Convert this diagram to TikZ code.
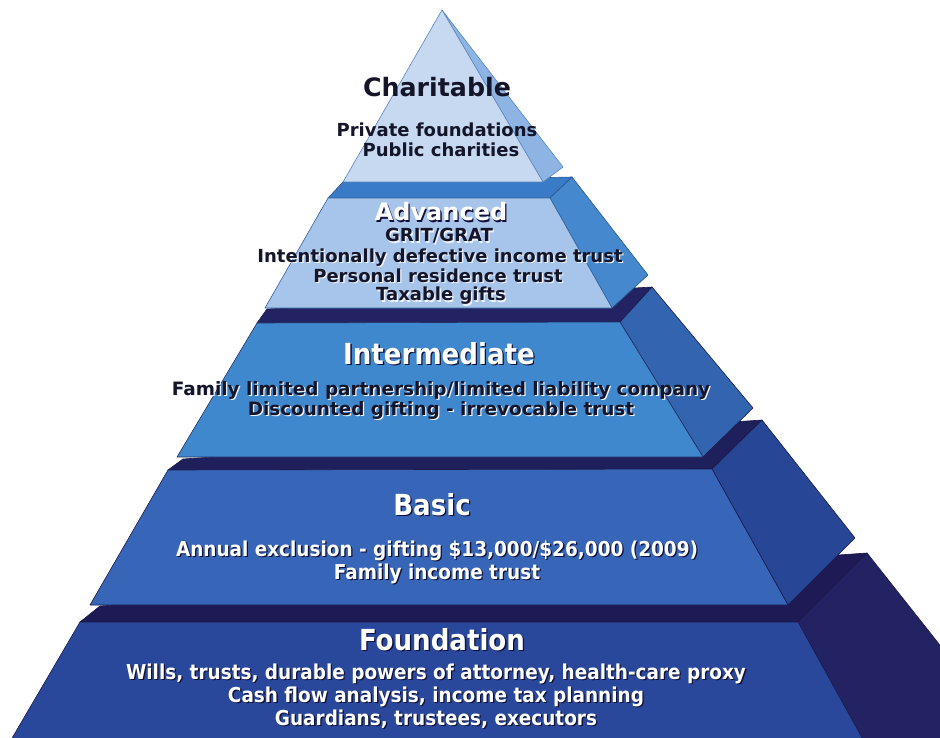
\documentclass[tikz,border=0pt]{standalone}
\usepackage{fontspec}
\setmainfont{DejaVu Sans}
\newfontfamily\condfont{DejaVu Sans Condensed}
\definecolor{cFront}{HTML}{C6D9F0}
\definecolor{cSide}{HTML}{8DB4E2}
\definecolor{cEdge}{HTML}{5A86C0}
\definecolor{aFront}{HTML}{A7C5EA}
\definecolor{aBand}{HTML}{3A7BC8}
\definecolor{aSide}{HTML}{4688CE}
\definecolor{iFront}{HTML}{4088CE}
\definecolor{iBand}{HTML}{232364}
\definecolor{iSide}{HTML}{3264AF}
\definecolor{bFront}{HTML}{3765B7}
\definecolor{bBand}{HTML}{1F1F5C}
\definecolor{bSide}{HTML}{284696}
\definecolor{fFront}{HTML}{29489B}
\definecolor{fBand}{HTML}{1D1A55}
\definecolor{fSide}{HTML}{232364}
\definecolor{darkEdge}{HTML}{1A1A4A}
\definecolor{shDark}{HTML}{10103A}
\definecolor{shLight}{HTML}{EEF3FA}
\definecolor{txtDark}{HTML}{15152A}
\newcommand{\shd}[3]{\makebox[0pt][l]{\hspace{1.3pt}\raisebox{-1.3pt}{\color{#1}#3}}{\color{#2}#3}}
\tikzset{
  face/.style={line width=0.6pt, line join=round},
  txt/.style={anchor=base, inner sep=0pt},
  ttl/.style={txt, font=\fontsize{25.3}{27}\selectfont\bfseries},
  attl/.style={txt, font=\fontsize{24}{26}\selectfont\bfseries},
  itm/.style={txt, font=\fontsize{18}{20}\selectfont\bfseries},
  iitm/.style={txt, font=\fontsize{18.4}{20}\selectfont\bfseries},
  cttl/.style={txt, font=\condfont\fontsize{29}{31}\selectfont\bfseries},
  citm/.style={txt, font=\condfont\fontsize{20.5}{23}\selectfont\bfseries}
}
\begin{document}
\begin{tikzpicture}[x=1pt,y=-1pt]
\useasboundingbox (0,0) rectangle (940,738);
\begin{scope}
\clip (0,0) rectangle (940,738);
% Foundation tier
\filldraw[face, fill=fBand, draw=darkEdge] (100,606) -- (867,553) -- (798,622) -- (80,622) -- cycle;
\filldraw[face, fill=fSide, draw=darkEdge] (798,622) -- (867,553) -- (1019,745) -- (866,745) -- cycle;
\filldraw[face, fill=fFront, draw=darkEdge] (80,622) -- (798,622) -- (866,745) -- (8,745) -- cycle;
% Basic tier
\filldraw[face, fill=bBand, draw=darkEdge] (183,459) -- (762,420) -- (712,469) -- (168,470) -- cycle;
\filldraw[face, fill=bSide, draw=darkEdge] (712,469) -- (762,420) -- (855,538) -- (788,605) -- cycle;
\filldraw[face, fill=bFront, draw=darkEdge] (168,470) -- (712,469) -- (788,605) -- (90,605) -- cycle;
% Intermediate tier
\filldraw[face, fill=iBand, draw=darkEdge] (267,309) -- (652,287) -- (620,322) -- (257,323) -- cycle;
\filldraw[face, fill=iSide, draw=darkEdge] (620,322) -- (652,287) -- (753,408) -- (703,457) -- cycle;
\filldraw[face, fill=iFront, draw=darkEdge!80!iFront] (257,323) -- (620,322) -- (703,457) -- (177,457) -- cycle;
% Advanced tier
\filldraw[face, fill=aBand, draw=aBand!70!black] (343,182) -- (572,177) -- (550,198) -- (328,198) -- cycle;
\filldraw[face, fill=aSide, draw=aBand!70!black] (550,198) -- (572,177) -- (648,275) -- (612,308) -- cycle;
\filldraw[face, fill=aFront, draw=aBand!80!black] (328,198) -- (550,198) -- (612,308) -- (265,308) -- cycle;
% Charitable tier
\filldraw[face, fill=cSide, draw=cEdge] (442,10) -- (563,167) -- (543,182) -- cycle;
\filldraw[face, fill=cFront, draw=cEdge] (442,10) -- (543,182) -- (343,182) -- cycle;
\end{scope}
% Charitable texts
\node[ttl, text=txtDark] (charT) at (437,97) {Charitable};
\node[itm, text=txtDark] (char1) at (437,137) {Private foundations};
\node[itm, text=txtDark] (char2) at (441,157) {Public charities};
% Advanced texts
\node[attl] (advT) at (441,221) {\shd{shDark}{white}{Advanced}};
\node[itm] (adv1) at (439,242) {\shd{shLight}{txtDark}{GRIT/GRAT}};
\node[itm] (adv2) at (440,262) {\shd{shLight}{txtDark}{Intentionally defective income trust}};
\node[itm] (adv3) at (438,282) {\shd{shLight}{txtDark}{Personal residence trust}};
\node[itm] (adv4) at (441,301) {\shd{shLight}{txtDark}{Taxable gifts}};
% Intermediate texts
\node[cttl] (intT) at (439,364) {\shd{shDark}{white}{Intermediate}};
\node[iitm] (int1) at (441,395) {\shd{shLight}{txtDark}{Family limited partnership/limited liability company}};
\node[iitm] (int2) at (441,415) {\shd{shLight}{txtDark}{Discounted gifting - irrevocable trust}};
% Basic texts
\node[cttl] (basT) at (432,515) {\shd{shDark}{white}{Basic}};
\node[citm] (bas1) at (437,556) {\shd{shDark}{white}{Annual exclusion - gifting \$13,000/\$26,000 (2009)}};
\node[citm] (bas2) at (437,579) {\shd{shDark}{white}{Family income trust}};
% Foundation texts
\node[cttl] (fouT) at (442,650) {\shd{shDark}{white}{Foundation}};
\node[citm] (fou1) at (436,679) {\shd{shDark}{white}{Wills, trusts, durable powers of attorney, health-care proxy}};
\node[citm] (fou2) at (436,702) {\shd{shDark}{white}{Cash flow analysis, income tax planning}};
\node[citm] (fou3) at (436,725) {\shd{shDark}{white}{Guardians, trustees, executors}};
\end{tikzpicture}
\end{document}
